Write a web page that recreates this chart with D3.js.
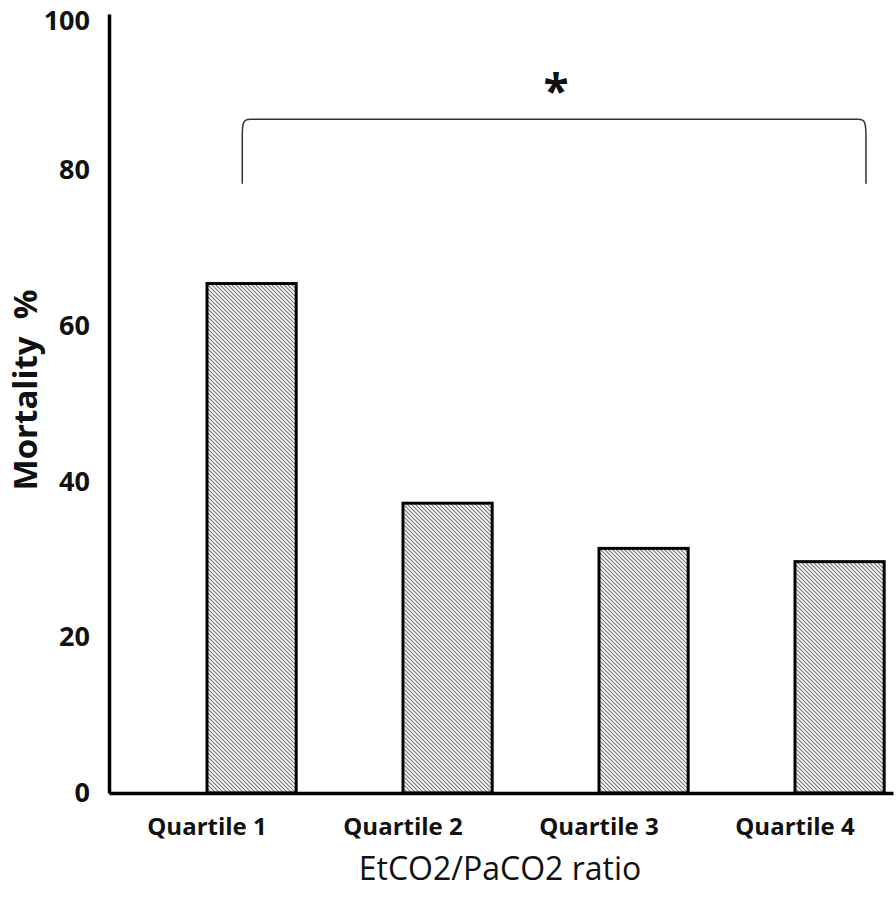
<!DOCTYPE html>
<html>
<head>
<meta charset="utf-8">
<script src="https://cdn.jsdelivr.net/npm/d3@7"></script>
<style>
  body { margin: 0; background: #fff; }
  text { font-family: 'Open Sans', sans-serif; fill: #111; }
</style>
</head>
<body>
<div id="chart"></div>
<script>
// Data
const categories = ['Quartile 1', 'Quartile 2', 'Quartile 3', 'Quartile 4'];
const mortality = [65.4, 37.2, 31.4, 29.7];
const yTicks = [0, 20, 40, 60, 80, 100];

const svgWidth = 896;
const svgHeight = 908;
const leftMargin = 109;
const topMargin = 14;
const plotWidth = 893 - leftMargin;
const plotHeight = 793 - topMargin;

const svg = d3
  .select('#chart')
  .append('svg')
  .attr('width', svgWidth)
  .attr('height', svgHeight);

// hatch fill for the bars
const pattern = svg
  .append('defs')
  .append('pattern')
  .attr('id', 'hatch')
  .attr('patternUnits', 'userSpaceOnUse')
  .attr('width', 4)
  .attr('height', 4);
pattern.append('rect').attr('width', 4).attr('height', 4).attr('fill', '#fff');
pattern
  .append('path')
  .attr('d', 'M-1,-1 L5,5 M-1,3 L1,5 M3,-1 L5,1')
  .attr('stroke', '#777')
  .attr('stroke-width', 1.2);

const g = svg
  .append('g')
  .attr('transform', 'translate(' + leftMargin + ',' + topMargin + ')');

const x = d3.scaleBand().domain(categories).range([0, plotWidth]);
const y = d3.scaleLinear().domain([0, 100]).range([plotHeight, 0]);

// bars start at the band centre and take the right half of the band
const barW = x.bandwidth() * 0.455;
g.selectAll('.bar')
  .data(categories)
  .enter()
  .append('rect')
  .attr('class', 'bar')
  .attr('x', (d) => x(d) + x.bandwidth() / 2)
  .attr('y', (d, i) => y(mortality[i]))
  .attr('width', barW)
  .attr('height', (d, i) => y(0) - y(mortality[i]))
  .attr('fill', 'url(#hatch)')
  .attr('stroke', '#000')
  .attr('stroke-width', 3);

// axes
const yAxis = d3.axisLeft(y).tickValues(yTicks).tickSize(0).tickPadding(19);
const yG = g.append('g').call(yAxis);
yG.select('.domain').attr('stroke', '#000').attr('stroke-width', 3.5);
yG.selectAll('text')
  .style('font-size', '27px')
  .style('font-weight', 'bold')
  .style('font-family', "'Open Sans', sans-serif");
// keep the top label inside the page
yG.selectAll('text').filter((d) => d === 100).attr('dy', '0.58em');

const xAxis = d3.axisBottom(x).tickSize(0).tickPadding(25);
const xG = g.append('g').attr('transform', 'translate(0,' + plotHeight + ')').call(xAxis);
xG.select('.domain').attr('stroke', '#000').attr('stroke-width', 3.5);
xG.selectAll('text')
  .style('font-size', '24px')
  .style('font-weight', 'bold')
  .style('font-family', "'Open Sans', sans-serif");

// Label x axis
g.append('text')
  .attr('x', plotWidth / 2 - 1)
  .attr('y', plotHeight + 87)
  .attr('text-anchor', 'middle')
  .style('font-size', '32px')
  .text('EtCO2/PaCO2 ratio');

// Label y axis
g.append('text')
  .attr('transform', 'rotate(-90)')
  .attr('x', -(390 - topMargin))
  .attr('y', -leftMargin + 37)
  .attr('text-anchor', 'middle')
  .style('font-size', '33px')
  .style('font-weight', 'bold')
  .style('white-space', 'pre')
  .attr('xml:space', 'preserve')
  .text('Mortality  %');

// significance bracket between Quartile 1 and Quartile 4
const bx0 = x(categories[0]) + x.bandwidth() * 0.68;
const bx1 = x(categories[3]) + x.bandwidth() * 0.862;
const byTop = y(86.5);
const byBot = y(78.2);
const r = 8;
g.append('path')
  .attr(
    'd',
    `M${bx0},${byBot} L${bx0},${byTop + r * 2} C${bx0},${byTop + 2} ${bx0 + 2},${byTop} ${bx0 + r},${byTop}` +
      ` L${bx1 - r},${byTop} C${bx1 - 2},${byTop} ${bx1},${byTop + 2} ${bx1},${byTop + r * 2} L${bx1},${byBot}`,
  )
  .attr('fill', 'none')
  .attr('stroke', '#333')
  .attr('stroke-width', 1.5);

g.append('text')
  .attr('x', (bx0 + bx1) / 2 + 2)
  .attr('y', byTop - 11)
  .attr('text-anchor', 'middle')
  .style('font-size', '46px')
  .style('font-weight', 'bold')
  .text('*');
</script>
</body>
</html>
